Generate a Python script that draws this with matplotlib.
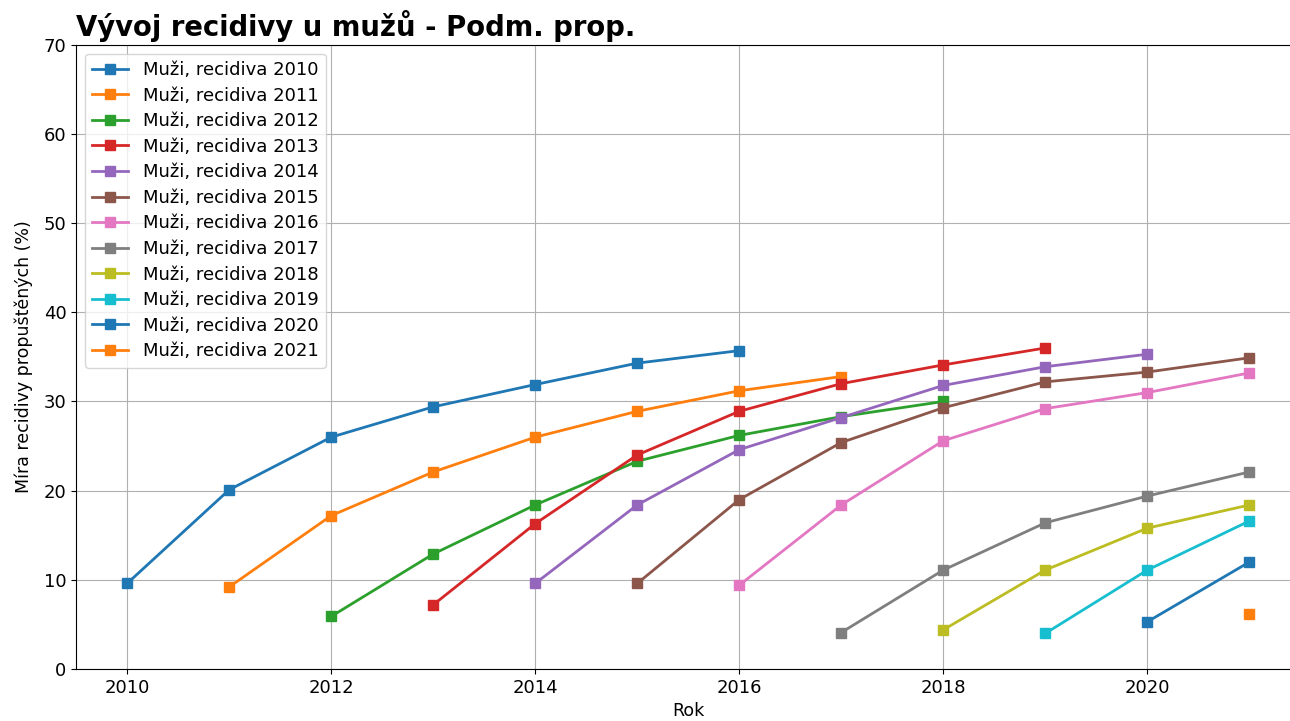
import numpy as np
import matplotlib.pyplot as plt

# release cohort -> recidivism rate (%) for consecutive years from the cohort year
cohorts = [2010, 2011, 2012, 2013, 2014, 2015, 2016, 2017, 2018, 2019, 2020, 2021]

rates_2010 = [9.6, 20.1, 26.0, 29.4, 31.9, 34.3, 35.7]
rates_2011 = [9.2, 17.2, 22.1, 26.0, 28.9, 31.2, 32.8]
rates_2012 = [5.9, 12.9, 18.4, 23.3, 26.2, 28.3, 30.0]
rates_2013 = [7.2, 16.3, 24.0, 28.9, 32.0, 34.1, 36.0]
rates_2014 = [9.6, 18.4, 24.6, 28.2, 31.8, 33.9, 35.3]
rates_2015 = [9.6, 19.0, 25.4, 29.3, 32.2, 33.3, 34.9]
rates_2016 = [9.4, 18.4, 25.6, 29.2, 31.0, 33.2]
rates_2017 = [4.1, 11.1, 16.4, 19.4, 22.1]
rates_2018 = [4.4, 11.1, 15.8, 18.4]
rates_2019 = [4.0, 11.1, 16.6]
rates_2020 = [5.3, 12.0]
rates_2021 = [6.2]

all_rates = [rates_2010, rates_2011, rates_2012, rates_2013, rates_2014, rates_2015,
             rates_2016, rates_2017, rates_2018, rates_2019, rates_2020, rates_2021]

fig, ax = plt.subplots(figsize=(12.9, 7.21), dpi=100)
# axes runs a bit past the right edge, like in the original crop
fig.subplots_adjust(left=0.059, right=1.008, top=0.938, bottom=0.072)

for start, rates in zip(cohorts, all_rates):
    years = np.arange(start, start + len(rates))
    ax.plot(years, rates, marker='s', markersize=7.5, linewidth=2,
            label='Muži, recidiva {}'.format(start))

ax.set_xlim(2009.5, 2021.5)
ax.set_ylim(0, 70)
ax.set_title('Vývoj recidivy u mužů - Podm. prop.', loc='left',
             fontsize=19.8, fontweight='bold')
ax.set_xlabel('Rok', fontsize=12.5)
ax.set_ylabel('Míra recidivy propuštěných (%)', fontsize=12.5, labelpad=8)
ax.tick_params(labelsize=13)
ax.grid(True)
ax.legend(loc='upper left', fontsize=13, labelspacing=0.42)

fig.savefig('out.png')
